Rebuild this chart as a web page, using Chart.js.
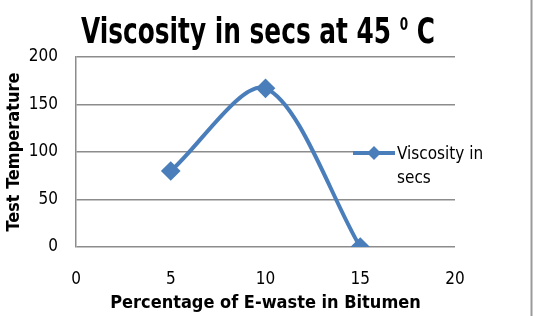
<!DOCTYPE html>
<html>
<head>
<meta charset="utf-8">
<script src="https://cdn.jsdelivr.net/npm/chart.js@4/dist/chart.umd.min.js"></script>
<style>
  html, body { margin: 0; padding: 0; background: #fff; }
  #wrap { width: 536px; height: 316px; position: relative; }
</style>
</head>
<body>
<div id="wrap"><canvas id="myChart" width="536" height="316"></canvas></div>
<script>
const xValues = [5, 10, 15];
const yValues = [80, 167, 0];
const seriesName = "Viscosity in secs";
const titleParts = ["Viscosity in secs at 45 ", "0", " C"];  // middle part is a superscript
const xTitle = "Percentage of E-waste in Bitumen";
const yTitle = "Test Temperature";

const lineColor = "#4A7EBB";
const fontFamily = "'DejaVu Sans Condensed', 'DejaVu Sans'";

// title, legend and the frame line on the right
const extras = {
  id: "extras",
  afterDraw(chart) {
    const ctx = chart.ctx;
    ctx.save();
    // title, squeezed a little to match the original width
    ctx.fillStyle = "#000";
    ctx.textAlign = "left";
    ctx.textBaseline = "alphabetic";
    const bigFont = "bold 35px " + fontFamily;
    const supFont = "bold 17px " + fontFamily;
    ctx.font = bigFont;
    const w1 = ctx.measureText(titleParts[0]).width;
    const w3 = ctx.measureText(titleParts[2]).width;
    ctx.font = supFont;
    const w2 = ctx.measureText(titleParts[1]).width;
    const sx = 354 / (w1 + w2 + w3);
    ctx.translate(81, 42.5);
    ctx.scale(sx, 1);
    ctx.font = bigFont;
    ctx.fillText(titleParts[0], 0, 0);
    ctx.font = supFont;
    ctx.fillText(titleParts[1], w1, -12.5);
    ctx.font = bigFont;
    ctx.fillText(titleParts[2], w1 + w2, 0);
    ctx.setTransform(1, 0, 0, 1, 0, 0);

    // legend
    const lx = 353, ly = 153;
    ctx.fillStyle = "#fff";
    ctx.fillRect(lx, ly - 8, 456 - lx, 16);
    ctx.strokeStyle = lineColor;
    ctx.lineWidth = 4;
    ctx.beginPath();
    ctx.moveTo(lx, ly);
    ctx.lineTo(lx + 42, ly);
    ctx.stroke();
    ctx.fillStyle = lineColor;
    ctx.beginPath();
    ctx.moveTo(lx + 21, ly - 7);
    ctx.lineTo(lx + 28, ly);
    ctx.lineTo(lx + 21, ly + 7);
    ctx.lineTo(lx + 14, ly);
    ctx.closePath();
    ctx.fill();
    ctx.fillStyle = "#000";
    ctx.font = "17px " + fontFamily;
    ctx.textAlign = "left";
    ctx.textBaseline = "middle";
    const parts = seriesName.split(" ");
    ctx.fillText(parts.slice(0, 2).join(" "), lx + 44, ly + 2);
    ctx.fillText(parts.slice(2).join(" "), lx + 44, ly + 26);

    // right frame line
    ctx.strokeStyle = "#9a9a9a";
    ctx.lineWidth = 2;
    ctx.beginPath();
    ctx.moveTo(531.5, 0);
    ctx.lineTo(531.5, 316);
    ctx.stroke();
    ctx.restore();
  }
};

new Chart("myChart", {
  type: "scatter",
  data: {
    datasets: [{
      label: seriesName,
      data: xValues.map((x, i) => ({x: x, y: yValues[i]})),
      showLine: true,
      borderColor: lineColor,
      backgroundColor: lineColor,
      borderWidth: 4,
      tension: 0.3,
      pointStyle: "rectRot",
      pointRadius: 7,
      pointHoverRadius: 7
    }]
  },
  options: {
    responsive: false,
    animation: false,
    events: [],
    layout: { padding: { left: 0, top: 57, right: 81, bottom: 0 } },
    plugins: {
      legend: { display: false },
      title: { display: false },
      tooltip: { enabled: false }
    },
    scales: {
      x: {
        type: "linear",
        min: 0, max: 20,
        ticks: { stepSize: 5, color: "#000", padding: 22,
                 font: { family: fontFamily, size: 17 } },
        grid: { display: false, drawTicks: false },
        border: { display: false },
        title: { display: true, text: xTitle, color: "#000", padding: { top: 0, bottom: 2 },
                 font: { family: fontFamily, size: 18, weight: "bold" } },
        afterFit(scale) { scale.height = 69; }
      },
      y: {
        min: 0, max: 200,
        ticks: { stepSize: 50, color: "#000", padding: 18,
                 font: { family: fontFamily, size: 17 } },
        grid: { color: "#8c8c8c", lineWidth: 1.5, drawTicks: false },
        border: { display: true, color: "#8c8c8c", width: 1.5 },
        title: { display: true, text: yTitle, color: "#000", padding: { top: 4, bottom: 0 },
                 font: { family: fontFamily, size: 18, weight: "bold" } },
        afterFit(scale) { scale.width = 76; }
      }
    }
  },
  plugins: [extras]
});
</script>
</body>
</html>
